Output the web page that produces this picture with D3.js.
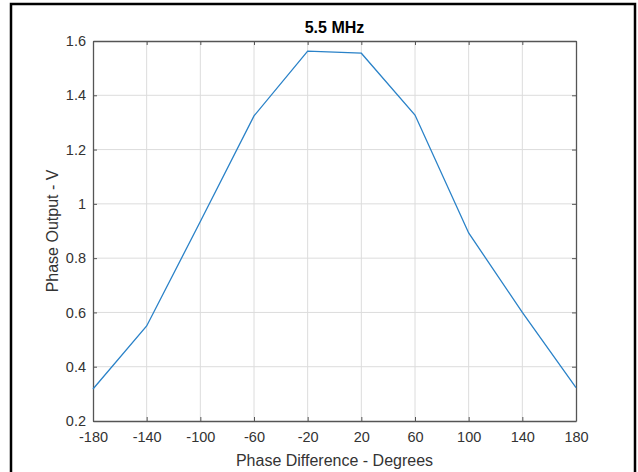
<!DOCTYPE html>
<html>
<head>
<meta charset="utf-8">
<script src="https://cdn.jsdelivr.net/npm/d3@7"></script>
<style>
  body { margin: 0; background: #fff; }
  svg { display: block; font-family: "Liberation Sans", Arial, sans-serif; }
</style>
</head>
<body>
<svg width="638" height="472"></svg>
<script>
// Phase output readings at 5.5 MHz
const phaseDeg = [-180, -140, -100, -60, -20, 20, 60, 100, 140, 180];
const outputV = [0.318, 0.55, 0.935, 1.324, 1.563, 1.555, 1.327, 0.893, 0.60, 0.323];
const xTicks = [-180, -140, -100, -60, -20, 20, 60, 100, 140, 180];
const yTicks = [0.2, 0.4, 0.6, 0.8, 1, 1.2, 1.4, 1.6];

const svg = d3.select("svg"),
      margin = {top: 41, right: 62, bottom: 51, left: 93},
      width = +svg.attr("width"),
      height = +svg.attr("height");

// outer frame
svg.append("rect")
    .attr("x", 11).attr("y", 4)
    .attr("width", 624).attr("height", 480)
    .attr("fill", "none")
    .attr("stroke", "#000")
    .attr("stroke-width", 2.5);

const x = d3.scaleLinear()
    .domain([-180, 180])
    .range([margin.left, width - margin.right]);

const y = d3.scaleLinear()
    .domain([0.2, 1.6])
    .range([height - margin.bottom, margin.top]);

// grid
svg.append("g")
    .selectAll("line.gx")
    .data(xTicks.slice(1, -1))
    .join("line")
    .attr("x1", d => x(d)).attr("x2", d => x(d))
    .attr("y1", y(0.2)).attr("y2", y(1.6))
    .attr("stroke", "#dcdcdc");

svg.append("g")
    .selectAll("line.gy")
    .data(yTicks.slice(1, -1))
    .join("line")
    .attr("x1", x(-180)).attr("x2", x(180))
    .attr("y1", d => y(d)).attr("y2", d => y(d))
    .attr("stroke", "#dcdcdc");

// axes, ticks pointing inward
const axisColor = "#555";

const gx = svg.append("g")
    .attr("transform", `translate(0,${y(0.2)})`)
    .call(d3.axisBottom(x).tickValues(xTicks).tickFormat(d => d).tickSizeInner(-4).tickSizeOuter(0).tickPadding(11));
const gxTop = svg.append("g")
    .attr("transform", `translate(0,${y(1.6)})`)
    .call(d3.axisTop(x).tickValues(xTicks).tickFormat("").tickSizeInner(-4).tickSizeOuter(0));
const gy = svg.append("g")
    .attr("transform", `translate(${x(-180)},0)`)
    .call(d3.axisLeft(y).tickValues(yTicks).tickFormat(d => d).tickSizeInner(-4).tickSizeOuter(0).tickPadding(7));
const gyRight = svg.append("g")
    .attr("transform", `translate(${x(180)},0)`)
    .call(d3.axisRight(y).tickValues(yTicks).tickFormat("").tickSizeInner(-4).tickSizeOuter(0));

[gx, gxTop, gy, gyRight].forEach(g => {
    g.select(".domain").attr("stroke", axisColor).attr("stroke-width", 1.3);
    g.selectAll(".tick line").attr("stroke", axisColor);
    g.selectAll(".tick text")
        .attr("fill", "#333")
        .style("font-family", "'Liberation Sans', Arial, sans-serif")
        .style("font-size", "14.5px");
});

// line
const line = d3.line()
    .x((d, i) => x(phaseDeg[i]))
    .y(d => y(d));

svg.append("path")
    .datum(outputV)
    .attr("fill", "none")
    .attr("stroke", "#2a82c8")
    .attr("stroke-width", 1.3)
    .attr("d", line);

// title and labels
svg.append("text")
    .attr("x", (x(-180) + x(180)) / 2)
    .attr("y", 33)
    .attr("text-anchor", "middle")
    .attr("font-weight", "bold")
    .attr("font-size", 16)
    .attr("fill", "#000")
    .text("5.5 MHz");

svg.append("text")
    .attr("x", (x(-180) + x(180)) / 2)
    .attr("y", 466)
    .attr("text-anchor", "middle")
    .attr("font-size", 16)
    .attr("fill", "#333")
    .text("Phase Difference - Degrees");

svg.append("text")
    .attr("transform", `translate(58,${(y(0.2) + y(1.6)) / 2}) rotate(-90)`)
    .attr("text-anchor", "middle")
    .attr("font-size", 16)
    .attr("fill", "#333")
    .text("Phase Output - V");
</script>
</body>
</html>
